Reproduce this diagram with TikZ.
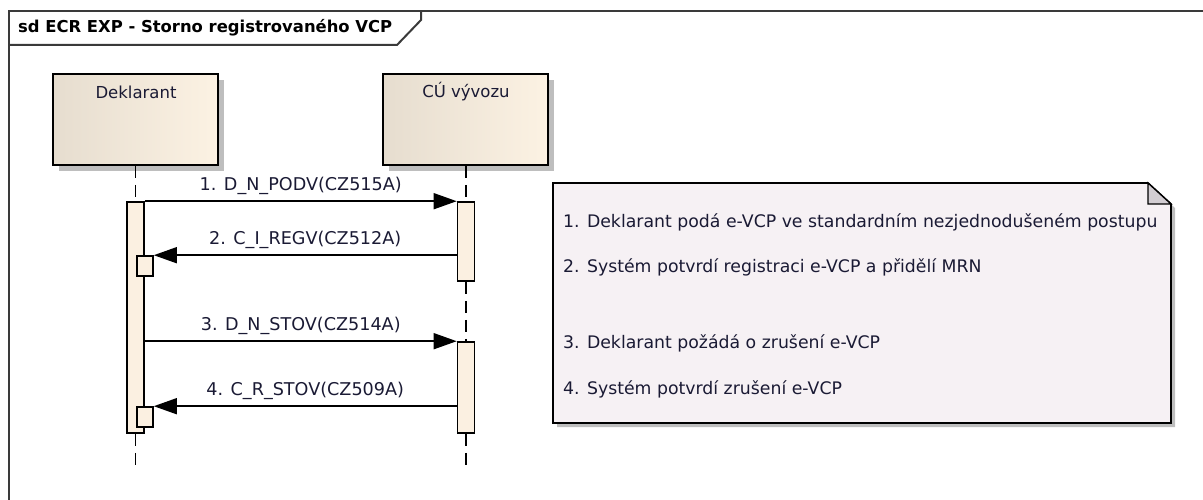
\documentclass[tikz,border=0pt]{standalone}
\usepackage{fontspec}
\setmainfont{DejaVu Sans}
\usetikzlibrary{arrows.meta,shadows}
\definecolor{frameC}{HTML}{3A3A3A}
\definecolor{txtC}{HTML}{1A1A34}
\definecolor{lifeL}{HTML}{E6DDCF}
\definecolor{lifeR}{HTML}{FCF2E3}
\definecolor{actC}{HTML}{FBF0E1}
\definecolor{noteC}{HTML}{F6F1F4}
\definecolor{foldC}{HTML}{D2CDD2}
\definecolor{shadowC}{HTML}{BEBEBE}
\begin{document}
\begin{tikzpicture}[x=1pt,y=-1pt,
  lifebox/.style={draw=black, line width=1.7pt, minimum width=165pt, minimum height=91pt,
    inner sep=0pt, left color=lifeL, right color=lifeR, shading angle=90,
    drop shadow={shadow xshift=6pt, shadow yshift=-6pt, fill=shadowC, opacity=1}},
  actbox/.style={draw=black, line width=1.6pt, fill=actC, minimum width=17pt, inner sep=0pt},
  lifeline/.style={line width=1.5pt, dash pattern=on 12pt off 7pt, draw=black},
  msg/.style={line width=1.5pt, -{Triangle[length=23pt,width=16pt]}},
  lbl/.style={text=txtC, font=\fontsize{17.6}{20}\selectfont, inner sep=0pt},
  hdr/.style={text=txtC, font=\fontsize{16.5}{20}\selectfont, inner sep=0pt},
  notetxt/.style={text=txtC, font=\fontsize{17.3}{20}\selectfont, anchor=west, inner sep=0pt}
]
\useasboundingbox (0,0) rectangle (1203,500);
\clip (0,0) rectangle (1203,500);

% frame
\draw[frameC, line width=2pt] (9,505) -- (9,11) -- (1210,11);
\draw[frameC, line width=2pt] (9,45) -- (397,45) -- (421,20) -- (421,11);
\node[anchor=west, inner sep=0pt, font=\bfseries\fontsize{16.4}{20}\selectfont] (title) at (18,28) {sd ECR EXP - Storno registrovaného VCP};

% lifeline heads
\node[lifebox] (dekl) at (135.5,119.5) {};
\node[lifebox] (cu) at (465.5,119.5) {};
\node[hdr] (deklT) at (136,92) {Deklarant};
\node[hdr] (cuT) at (466,92) {CÚ vývozu};

% activations
\node[actbox, minimum height=231pt] (adekl) at (135.5,317.5) {};
\node[actbox, minimum height=79pt] (acu1) at (466,241.5) {};
\node[actbox, minimum height=91pt] (acu2) at (466,387.5) {};
\node[actbox, minimum width=16pt, minimum height=20pt] (s1) at (145,266) {};
\node[actbox, minimum width=16pt, minimum height=20pt] (s2) at (145,417) {};

% lifelines
\coordinate (dEnd) at (135.5,465);
\coordinate (cEnd) at (466,465);
\draw[lifeline] (dekl.south) -- (adekl.north);
\draw[lifeline] (adekl.south) -- (dEnd);
\draw[lifeline] (cu.south -| acu1.north) -- (acu1.north);
\draw[lifeline] (acu1.south) -- (acu2.north);
\draw[lifeline] (acu2.south) -- (cEnd);

% messages
\draw[msg] (adekl.north east) -- node[lbl, above=6pt] (m1) {1. D\_N\_PODV(CZ515A)} (acu1.north west);
\draw[msg] (acu1.west |- s1.north east) -- node[lbl, above=6pt] (m2) {2. C\_I\_REGV(CZ512A)} (s1.north east);
\draw[msg] (adekl.east |- acu2.north) -- node[lbl, above=6pt] (m3) {3. D\_N\_STOV(CZ514A)} (acu2.north west);
\draw[msg] (acu2.west |- s2.north east) -- node[lbl, above=6pt] (m4) {4. C\_R\_STOV(CZ509A)} (s2.north east);

% note
\fill[shadowC] (557,187) -- (1152,187) -- (1175,208) -- (1175,427) -- (557,427) -- cycle;
\draw[line width=1.7pt, fill=noteC] (553,183) -- (1148,183) -- (1171,204) -- (1171,423) -- (553,423) -- cycle;
\draw[line width=1.3pt, fill=foldC] (1148,183) -- (1148,204) -- (1171,204) -- cycle;
\node[notetxt] (n1) at (563,222) {1. Deklarant podá e-VCP ve standardním nezjednodušeném postupu};
\node[notetxt] (n2) at (563,267) {2. Systém potvrdí registraci e-VCP a přidělí MRN};
\node[notetxt] (n3) at (563,343) {3. Deklarant požádá o zrušení e-VCP};
\node[notetxt] (n4) at (563,389) {4. Systém potvrdí zrušení e-VCP};
\end{tikzpicture}
\end{document}
